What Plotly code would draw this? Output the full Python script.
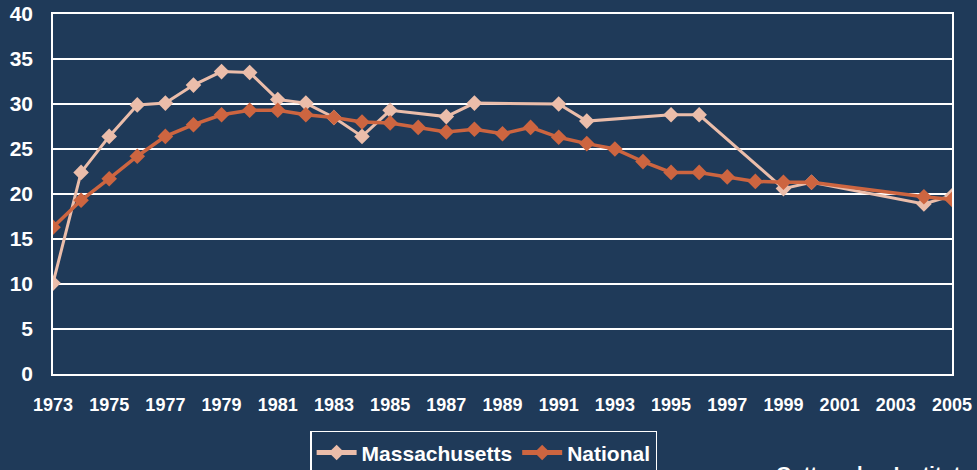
import plotly.graph_objects as go

# Teen pregnancy/abortion rate series, 1973-2005 (missing years left out)
ma_years = [1973, 1974, 1975, 1976, 1977, 1978, 1979, 1980, 1981, 1982, 1983, 1984,
            1985, 1987, 1988, 1991, 1992, 1995, 1996, 1999, 2000, 2004, 2005]
ma_values = [10.1, 22.4, 26.4, 29.9, 30.1, 32.1, 33.6, 33.5, 30.5, 30.1, 28.5, 26.4,
             29.3, 28.6, 30.1, 30.0, 28.1, 28.8, 28.8, 20.6, 21.3, 18.9, 19.8]

us_years = [1973, 1974, 1975, 1976, 1977, 1978, 1979, 1980, 1981, 1982, 1983, 1984,
            1985, 1986, 1987, 1988, 1989, 1990, 1991, 1992, 1993, 1994, 1995, 1996,
            1997, 1998, 1999, 2000, 2004, 2005]
us_values = [16.3, 19.3, 21.7, 24.2, 26.4, 27.7, 28.8, 29.3, 29.3, 28.8, 28.5, 28.0,
             27.9, 27.4, 26.9, 27.2, 26.7, 27.4, 26.3, 25.6, 25.0, 23.6, 22.4, 22.4,
             21.9, 21.4, 21.3, 21.3, 19.7, 19.4]

x_ticks = list(range(1973, 2006, 2))
y_ticks = list(range(0, 41, 5))

BG = "#1F3A59"
MA_COLOR = "#EBBDAA"
US_COLOR = "#CD6540"
FONT = "Liberation Sans, Arial, sans-serif"

fig = go.Figure()
fig.add_trace(go.Scatter(
    x=ma_years, y=ma_values, name="Massachusetts", mode="lines+markers",
    line=dict(color=MA_COLOR, width=3),
    marker=dict(symbol="diamond", size=12, color=MA_COLOR),
))
fig.add_trace(go.Scatter(
    x=us_years, y=us_values, name="National", mode="lines+markers",
    line=dict(color=US_COLOR, width=3.5),
    marker=dict(symbol="diamond", size=12, color=US_COLOR),
))

fig.update_layout(
    width=977, height=470,
    margin=dict(l=53, r=25, t=14, b=96, autoexpand=False),
    paper_bgcolor=BG, plot_bgcolor=BG,
    font=dict(family=FONT, color="white"),
    showlegend=True,
    legend=dict(
        orientation="h", x=0.479, xanchor="center", y=-0.158, yanchor="top",
        bgcolor=BG, bordercolor="white", borderwidth=1.5,
        font=dict(size=21, family=FONT, color="white", weight="bold"),
        itemsizing="constant", tracegroupgap=0, itemwidth=40,
    ),
    xaxis=dict(
        range=[1973, 2005], tickmode="array", tickvals=x_ticks,
        ticktext=[str(v) for v in x_ticks],
        showgrid=False, zeroline=False, automargin=False,
        showline=True, linecolor="white", linewidth=1.5, mirror=True,
        ticks="", ticklabelstandoff=14,
        tickfont=dict(size=18, family=FONT, color="white", weight="bold"),
    ),
    yaxis=dict(
        range=[0, 40], tickmode="array", tickvals=y_ticks,
        showgrid=True, gridcolor="white", gridwidth=1.5, zeroline=False,
        automargin=False,
        showline=True, linecolor="white", linewidth=1.5, mirror=True,
        ticks="", ticklabelstandoff=14,
        tickfont=dict(size=21, family=FONT, color="white", weight="bold"),
    ),
)

fig.add_annotation(
    text="Guttmacher Institute", xref="paper", yref="paper",
    x=1.0245, y=-0.242, xanchor="right", yanchor="top", showarrow=False,
    font=dict(size=20, family=FONT, color="white", weight="bold"),
)

fig.write_html("out.html")
